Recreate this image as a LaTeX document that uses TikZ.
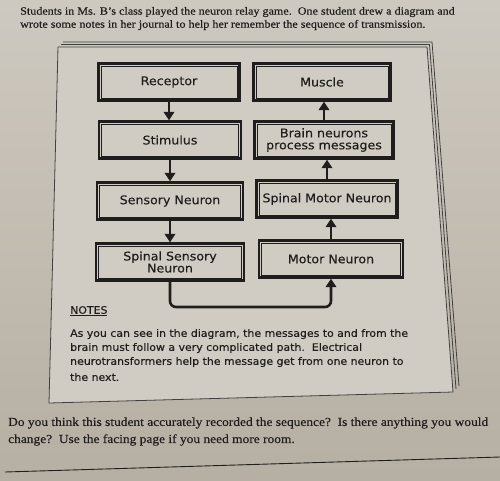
\documentclass[tikz,border=0pt]{standalone}
\usepackage{fontspec}
\setmainfont{Liberation Serif}[FakeStretch=1.1, FakeBold=0.4]
\newfontfamily\hand{DejaVu Sans}[FakeStretch=1.06, FakeBold=0.3]
\usetikzlibrary{arrows.meta}
\definecolor{paperA}{RGB}{206,201,192}
\definecolor{paperB}{RGB}{182,175,163}
\definecolor{sheet}{RGB}{209,204,195}
\definecolor{ink}{RGB}{32,30,29}
\begin{document}
\begin{tikzpicture}[x=1pt,y=-1pt,
  box/.style={draw=ink, line width=2.3pt, minimum height=37pt, inner sep=0pt,
    align=center, text=ink, font=\hand\fontsize{11.9}{12}\selectfont},
  inner/.style={draw=ink, line width=0.7pt},
  arr/.style={draw=ink, line width=2.6pt, -{Triangle[width=10.5pt,length=8.5pt]}},
  sheetline/.style={draw=ink!85, line width=0.8pt},
  serif/.style={text=ink, anchor=west, inner sep=0pt, font=\fontsize{11}{13}\selectfont},
  note/.style={text=ink, anchor=west, inner sep=0pt, font=\hand\fontsize{10.3}{12}\selectfont}]
\useasboundingbox (0,0) rectangle (500,480);
\shade[top color=paperA, bottom color=paperB] (0,0) rectangle (500,480);
% stacked sheets
\draw[sheetline] (63,42) -- (432,42) -- (459,386);
\draw[sheetline] (61,44.5) -- (429.5,44.5) -- (456,389);
\draw[sheetline, fill=sheet] (58,47) -- (427,47) -- (453,392) -- (49,403) -- cycle;
% boxes
\node[box, minimum width=141pt] (rec) at (169,82) {Receptor};
\node[box, minimum width=137pt] (mus) at (322,82) {Muscle};
\node[box, minimum width=142pt] (sti) at (170,140) {Stimulus};
\node[box, minimum width=139pt] (bra) at (324,140) {Brain neurons\\process messages};
\node[box, minimum width=146pt] (sen) at (170,201) {Sensory Neuron};
\node[box, minimum width=141pt] (smn) at (327,199) {Spinal Motor Neuron};
\node[box, minimum width=148pt] (ssn) at (170,262) {Spinal Sensory\\Neuron};
\node[box, minimum width=144pt] (mot) at (331,259) {Motor Neuron};
\foreach \n in {rec,mus,sti,bra,sen,smn,ssn,mot}{
  \draw[inner] ([shift={(3.5,3.5)}]\n.north west) rectangle ([shift={(-3.5,-3.5)}]\n.south east);
}
% arrows
\draw[arr] (rec.south) -- (rec.south |- sti.north);
\draw[arr] (sti.south) -- (sti.south |- sen.north);
\draw[arr] (sen.south) -- (sen.south |- ssn.north);
\draw[arr] (mot.north) -- (mot.north |- smn.south);
\draw[arr] (smn.north) -- (smn.north |- bra.south);
\draw[arr] (bra.north) -- (bra.north |- mus.south);
\coordinate (low) at (0,307);
\draw[arr, rounded corners=6pt] (ssn.south) -- (ssn.south |- low) -- (mot.south |- low) -- (mot.south);
% texts
\node[serif] (h1) at (20,12) {Students in Ms. B’s class played the neuron relay game.\ \ One student drew a diagram and};
\node[serif] (h2) at (20,25) {wrote some notes in her journal to help her remember the sequence of transmission.};
\node[note] (nt) at (70,311) {\underline{NOTES}};
\node[note] (n1) at (70,334) {As you can see in the diagram, the messages to and from the};
\node[note] (n2) at (70,348) {brain must follow a very complicated path.\ \ Electrical};
\node[note] (n3) at (70,362) {neurotransformers help the message get from one neuron to};
\node[note] (n4) at (70,377) {the next.};
\node[serif, font=\fontsize{12.2}{14}\selectfont] (q1) at (8,423) {Do you think this student accurately recorded the sequence?\ \ Is there anything you would};
\node[serif, font=\fontsize{12.2}{14}\selectfont] (q2) at (8,440) {change?\ \ Use the facing page if you need more room.};
\coordinate (ruleA) at (5,472);
\coordinate (ruleB) at (500,457);
\draw[ink, line width=0.9pt] (ruleA) -- (ruleB);
\end{tikzpicture}
\end{document}
